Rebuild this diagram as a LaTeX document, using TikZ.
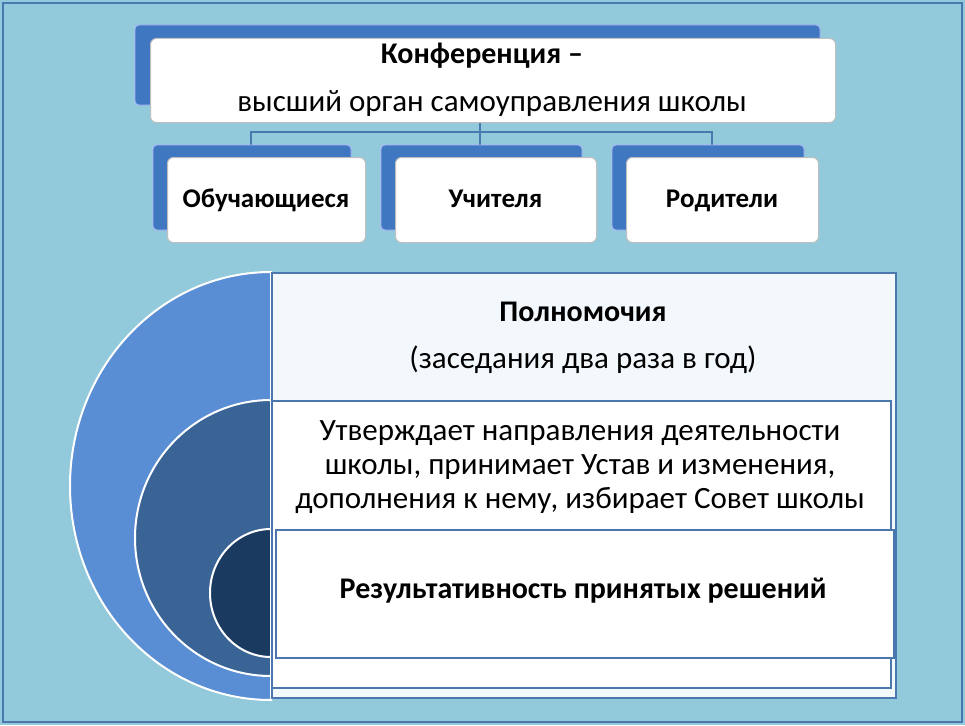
\documentclass[tikz,border=0pt]{standalone}
\usepackage{fontspec}
\setmainfont{Carlito}
\begin{document}
\begin{tikzpicture}[x=1pt,y=-1pt,
  backbox/.style={draw=white!70!blue, fill=bb, rounded corners=4pt, line width=0.8pt},
  frontbox/.style={draw=gray!50, fill=white, rounded corners=6pt, line width=1pt},
  lbl/.style={font=\fontsize{27}{30}\selectfont\bfseries, anchor=base},
  rect/.style={draw=rb, line width=1.5pt},
  conn/.style={draw=rb, line width=1.5pt}]
\definecolor{bg}{HTML}{92CADB}
\definecolor{bb}{HTML}{3F78C0}
\definecolor{rb}{HTML}{4A78AE}
\definecolor{c1}{HTML}{5A8ED4}
\definecolor{c2}{HTML}{3A6496}
\definecolor{c3}{HTML}{1B3A60}
\definecolor{lf}{HTML}{F2F8FC}
\useasboundingbox (0,0) rectangle (965,725);
\fill[bg] (0,0) rectangle (965,725);
\draw[rb, line width=2pt] (3,3) rectangle (962,722);
% connectors
\coordinate (j) at (480,132);
\draw[conn] (480,122) -- (j);
\draw[conn] (251,157) |- (712,132) -- (712,157);
\draw[conn] (480,132) -- (480,157);
% top box
\draw[backbox] (135,25) rectangle (820,105);
\node[frontbox, minimum width=685pt, minimum height=84pt, anchor=north west] (top) at (150,38) {};
\node[font=\fontsize{30}{34}\selectfont\bfseries] (t1) at (482,56) {Конференция –};
\node[font=\fontsize{31}{34}\selectfont] (t2) at (492,104) {высший орган самоуправления школы};
% children
\foreach \x/\w/\t/\n in {167/198/Обучающиеся/a, 395/201/Учителя/b, 626/192/Родители/c}{
  \draw[backbox] (\x-14,145) rectangle (\x+\w-14,230);
  \node[frontbox, minimum width=\w pt, minimum height=85pt, anchor=north west] (\n) at (\x,157) {};
  \node[lbl] at (\x+\w/2,207) {\t};
}
% half discs
\fill[c1, draw=white, line width=2pt] (271,272) arc[start angle=270, end angle=90, x radius=201, y radius=214] -- cycle;
\fill[c2, draw=white, line width=2pt] (271,400) arc[start angle=270, end angle=90, x radius=136, y radius=138] -- cycle;
\fill[c3, draw=white, line width=2pt] (271,529) arc[start angle=270, end angle=90, x radius=61, y radius=64] -- cycle;
% rectangles
\node[rect, fill=lf, minimum width=624pt, minimum height=425pt, anchor=north west] (r1) at (271,272) {};
\node[rect, fill=white, minimum width=619pt, minimum height=287pt, anchor=north west] (r2) at (271,400) {};
\node[rect, fill=white, minimum width=618pt, minimum height=128pt, anchor=north west] (r3) at (275,529) {};
\node[font=\fontsize{30}{34}\selectfont\bfseries] (p1) at (583,312) {Полномочия};
\node[font=\fontsize{31}{34}\selectfont] (p2) at (583,360) {(заседания два раза в год)};
\node[font=\fontsize{31}{34}\selectfont, align=center] (p3) at (580,467) {Утверждает направления деятельности\\школы, принимает Устав и изменения,\\дополнения к нему, избирает Совет школы};
\node[font=\fontsize{30}{34}\selectfont\bfseries] (p4) at (583,591) {Результативность принятых решений};
\end{tikzpicture}
\end{document}
